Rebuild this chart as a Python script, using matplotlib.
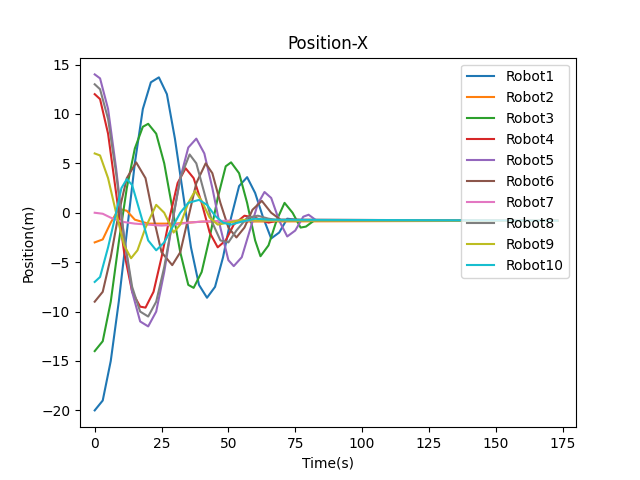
import matplotlib
matplotlib.use("Agg")
from matplotlib import pyplot as plt

# (time, position) samples
t1 = [0, 3, 6, 9, 12, 15, 18, 21, 24, 27, 30, 33, 36, 39, 42, 45, 48, 51, 54, 57, 60, 63, 66, 69, 72, 75, 80, 90, 173]
x1 = [-20, -19, -15, -9, -2, 5, 10.5, 13.2, 13.7, 12, 7.5, 2, -3.5, -7.3, -8.6, -7.5, -4.5, -0.5, 2.7, 3.6, 2, -0.5, -2.6, -2, -0.6, -0.7, -0.8, -0.8, -0.8]
t2 = [0, 3, 6, 9, 12, 15, 20, 30, 40, 173]
x2 = [-3, -2.7, -1, 0.4, 0.2, -0.7, -1.1, -1.1, -0.9, -0.8]
t3 = [0, 3, 6, 9, 12, 15, 18, 20, 23, 26, 29, 32, 35, 37, 40, 43, 46, 49, 51, 54, 57, 60, 62, 65, 68, 71, 74, 77, 79, 82, 173]
x3 = [-14, -13, -9, -3, 2.5, 6.5, 8.7, 9, 8, 5, 0.5, -4, -7.3, -7.6, -6, -2.5, 1.5, 4.7, 5.1, 4, 1, -2.8, -4.4, -3.3, -0.8, 1, 0, -1.5, -1.4, -0.8, -0.8]
t4 = [0, 2, 5, 8, 11, 14, 17, 19, 22, 25, 28, 31, 34, 37, 40, 43, 46, 49, 52, 56, 60, 65, 70, 173]
x4 = [12, 11.5, 8, 2, -4, -8, -9.5, -9.6, -8, -4.5, -0.5, 3, 4.5, 3.5, 1, -2, -3.5, -2.8, -1.2, -0.3, -0.5, -1, -0.7, -0.8]
t5 = [0, 2, 5, 8, 11, 14, 17, 20, 23, 26, 29, 32, 35, 38, 41, 44, 47, 50, 52, 55, 58, 61, 63.5, 66, 69, 72, 75, 78, 80, 83, 173]
x5 = [14, 13.6, 10.5, 4.5, -2.5, -8, -11, -11.5, -10, -6, -1, 3.5, 6.6, 7.5, 6, 2.5, -1.5, -4.8, -5.4, -4.5, -1.8, 0.9, 2.1, 1.5, -0.8, -2.4, -1.8, -0.4, -0.2, -0.8, -0.8]
t6 = [0, 3, 6, 9, 12, 15.5, 19, 22, 25, 29, 32, 35, 38, 41.5, 44, 47, 50, 53, 56, 59, 62.5, 66, 70, 173]
x6 = [-9, -8, -4.5, 0, 3.5, 5.1, 3.5, -0.5, -4, -5.3, -4, -0.5, 3, 5, 4, 1, -1.5, -2.5, -1.5, 0.3, 1.2, 0, -0.8, -0.8]
t7 = [0, 3, 6, 10, 15, 20, 25, 30, 35, 40, 50, 173]
x7 = [0, -0.1, -0.5, -0.9, -1.1, -1.2, -1.3, -1.2, -1, -0.9, -0.8, -0.8]
t8 = [0, 2, 5, 8, 11, 14, 17, 20, 23, 26, 29, 32, 35.5, 38, 41, 44, 47, 50, 53, 57, 61, 65, 70, 173]
x8 = [13, 12.5, 9.5, 4, -2.5, -7.5, -10, -10.5, -9, -5.5, -1, 3.5, 5.9, 5, 2, -1, -2.8, -3, -1.8, -0.5, -0.3, -0.6, -0.8, -0.8]
t9 = [0, 2, 5, 8, 11, 13.6, 16, 19, 23, 26, 29.5, 32, 35, 37.5, 40, 43, 46, 50, 55, 60, 173]
x9 = [6, 5.8, 3.5, 0, -3.3, -4.6, -3.8, -1.5, 0.8, 0, -2, -1.2, 1, 2.2, 1.2, -0.5, -1.2, -1, -0.7, -0.8, -0.8]
t10 = [0, 2, 5, 8, 10, 12, 14, 17, 20, 23, 26, 29, 32, 35, 39, 42, 45, 48, 51, 55, 60, 65, 173]
x10 = [-7, -6.5, -3.5, 0, 2.5, 3.4, 2.8, 0, -2.8, -3.8, -3, -1.5, 0, 1, 1.3, 0.8, -0.3, -1, -1.2, -0.9, -0.6, -0.7, -0.8]

times = [t1, t2, t3, t4, t5, t6, t7, t8, t9, t10]
positions = [x1, x2, x3, x4, x5, x6, x7, x8, x9, x10]
labels = ['Robot%d' % (i + 1) for i in range(10)]

fig = plt.figure(figsize=(6.4, 4.8), dpi=100)
for t, x, lab in zip(times, positions, labels):
    plt.plot(t, x, label=lab)
plt.xlim(-5.5, 180)
plt.title('Position-X')
plt.xlabel('Time(s)')
plt.ylabel('Position(m)')
plt.legend(loc='upper right')
plt.savefig('out.png')
